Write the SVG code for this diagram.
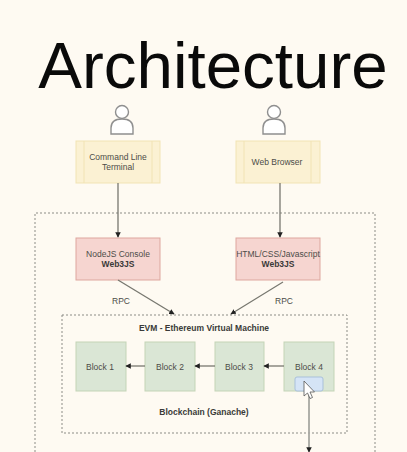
<svg xmlns="http://www.w3.org/2000/svg" width="407" height="452" viewBox="0 0 407 452">
<style>
text{font-family:"Liberation Sans",Arial,sans-serif;font-size:8.5px;fill:#4c4c48;text-anchor:middle}
.b{font-weight:bold;fill:#3a3a38}
.y{fill:#fbf1d3;stroke:#f1e3b4;stroke-width:1}
.p{fill:#f6d5d0;stroke:#dda69e;stroke-width:1}
.g{fill:#dae6d5;stroke:#c3d4b6;stroke-width:1}
.d{fill:none;stroke:#8c8c86;stroke-width:1;stroke-dasharray:2 2}
.c{fill:none;stroke:#77776f;stroke-width:1.3}
.u{fill:#fff;stroke:#8f8f8f;stroke-width:1.4}
</style>
<defs>
<marker id="a" viewBox="0 0 8 8" refX="7" refY="4" markerWidth="5.5" markerHeight="5.5" orient="auto" markerUnits="userSpaceOnUse"><path d="M0 0L8 4L0 8Z" fill="#222"/></marker>
</defs>
<rect width="407" height="452" fill="#fefaf2"/>
<text x="213" y="88" style="font-size:65.500px;fill:#0a0a0a">Architecture</text>
<g id="outer"><path class="d" d="M35 452V213H375V452"/></g>
<g id="evm"><rect class="d" x="62" y="315" width="285" height="118"/><text class="b" x="204" y="331">EVM - Ethereum Virtual Machine</text><text class="b" x="204" y="415">Blockchain (Ganache)</text></g>
<g id="user1"><path class="u" d="M111 134V128Q111 119 122 119Q133 119 133 128V134Z"/><circle class="u" cx="122" cy="112" r="6.500"/></g>
<g id="user2"><path class="u" d="M263 134V128Q263 119 274 119Q285 119 285 128V134Z"/><circle class="u" cx="274" cy="112" r="6.500"/></g>
<g id="terminal"><rect class="y" x="76" y="141" width="84" height="42"/><path class="y" d="M84 141V183M152 141V183"/><text x="118" y="160">Command Line</text><text x="118" y="170">Terminal</text></g>
<g id="browser"><rect class="y" x="236" y="141" width="84" height="42"/><path class="y" d="M244 141V183M311 141V183"/><text x="277" y="165">Web Browser</text></g>
<g id="nodejs"><rect class="p" x="76" y="238" width="84" height="42"/><text x="118" y="257">NodeJS Console</text><text class="b" x="118" y="267">Web3JS</text></g>
<g id="html"><rect class="p" x="236" y="238" width="84" height="42"/><text x="278" y="257">HTML/CSS/Javascript</text><text class="b" x="278" y="267">Web3JS</text></g>
<g id="block1"><rect class="g" x="76" y="342" width="50" height="49"/><text x="100" y="370">Block 1</text></g>
<g id="block2"><rect class="g" x="145" y="342" width="50" height="49"/><text x="170" y="370">Block 2</text></g>
<g id="block3"><rect class="g" x="215" y="342" width="49" height="49"/><text x="239" y="370">Block 3</text></g>
<g id="block4"><rect class="g" x="284" y="342" width="50" height="49"/><text x="309" y="370">Block 4</text><rect x="295" y="377" width="28" height="14" rx="2" fill="#d5e4f6" stroke="#a9c0da"/></g>
<g id="connectors">
<path class="c" d="M118 183V237" marker-end="url(#a)"/>
<path class="c" d="M280 183V237" marker-end="url(#a)"/>
<path class="c" d="M118 280L174 314" marker-end="url(#a)"/>
<path class="c" d="M283 282L231 314" marker-end="url(#a)"/>
<path class="c" d="M145 366H126" marker-end="url(#a)"/>
<path class="c" d="M215 366H195" marker-end="url(#a)"/>
<path class="c" d="M284 366H264" marker-end="url(#a)"/>
<path class="c" d="M309 391V452" style="stroke:#a8a8a2;stroke-width:1.800" marker-end="url(#a)"/>
<text x="121" y="304">RPC</text><text x="284" y="304">RPC</text>
</g>
<path d="M304 381V396L307.500 393L310 398.500L312.500 397.500L310 392H314.500Z" fill="#fff" stroke="#555" stroke-width=".8"/>
</svg>
